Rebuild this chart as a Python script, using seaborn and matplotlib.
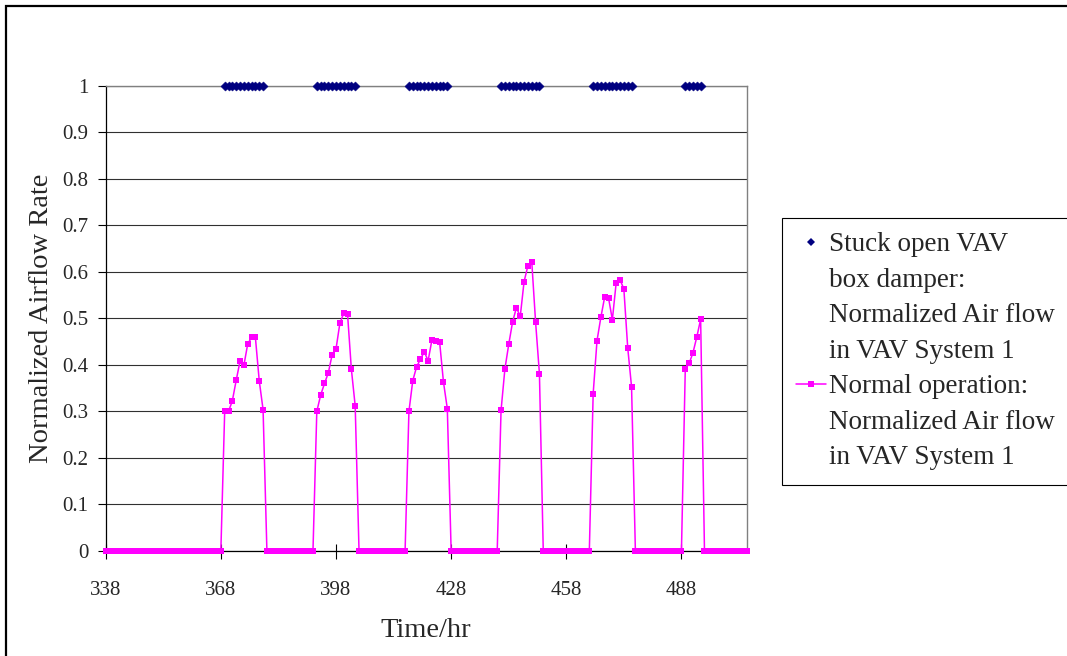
import numpy as np
import pandas as pd
import matplotlib
matplotlib.use("Agg")
import matplotlib.pyplot as plt
from matplotlib.lines import Line2D
from matplotlib.patches import Rectangle
import seaborn as sns

# ---- data -------------------------------------------------------------
first_hour = 338
last_hour = 505
tick_hours = [338, 368, 398, 428, 458, 488]
y_ticks = [0, 0.1, 0.2, 0.3, 0.4, 0.5, 0.6, 0.7, 0.8, 0.9, 1]
y_tick_labels = ["0", "0.1", "0.2", "0.3", "0.4", "0.5", "0.6", "0.7", "0.8", "0.9", "1"]

# hour at which each occupied period begins
day_start_hours = [369, 393, 417, 441, 465, 489]

# normalized airflow during each occupied period (normal operation)
day1_flow = [0.30, 0.30, 0.323, 0.367, 0.408, 0.399, 0.445, 0.459, 0.459, 0.366, 0.304]
day2_flow = [0.30, 0.335, 0.36, 0.383, 0.422, 0.434, 0.489, 0.511, 0.51, 0.391, 0.312]
day3_flow = [0.30, 0.366, 0.396, 0.412, 0.428, 0.409, 0.454, 0.452, 0.449, 0.363, 0.306]
day4_flow = [0.302, 0.391, 0.444, 0.492, 0.523, 0.504, 0.579, 0.613, 0.622, 0.492, 0.381]
day5_flow = [0.338, 0.452, 0.502, 0.546, 0.544, 0.497, 0.577, 0.583, 0.563, 0.437, 0.353]
day6_flow = [0.392, 0.403, 0.426, 0.46, 0.498]

# with the damper stuck open the box delivers full flow whenever the system runs
stuck_open_flow = 1.0
unoccupied_flow = 0.0

# ---- tables -------------------------------------------------------------
hours = np.arange(first_hour, last_hour + 1)
normal = pd.Series(unoccupied_flow, index=hours, dtype=float)
stuck_hours = []
for start, vals in zip(day_start_hours,
                       [day1_flow, day2_flow, day3_flow, day4_flow, day5_flow, day6_flow]):
    idx = np.arange(start, start + len(vals))
    normal.loc[idx] = vals
    stuck_hours.extend(idx.tolist())

normal_df = pd.DataFrame({"hour": hours, "flow": normal.values})
stuck_df = pd.DataFrame({"hour": stuck_hours, "flow": stuck_open_flow})

# ---- style --------------------------------------------------------------
sns.set_theme(style="white")
plt.rcParams["font.family"] = ["Liberation Serif", "DejaVu Serif"]

W, H = 1067, 656
fig = plt.figure(figsize=(W / 100, H / 100), dpi=100)
ax = fig.add_axes([105.7 / W, 1 - 551 / H, (746.7 - 105.7) / W, (551 - 85.7) / H])

navy = "#000080"
magenta = "#FF00FF"

sns.scatterplot(data=stuck_df, x="hour", y="flow", marker="D", s=22,
                color=navy, edgecolor=navy, linewidth=0.3, ax=ax,
                zorder=4, clip_on=False, legend=False)
sns.lineplot(data=normal_df, x="hour", y="flow", marker="s", markersize=5.0,
             markeredgewidth=0, color=magenta, linewidth=1.1, errorbar=None,
             ax=ax, zorder=3, clip_on=False, legend=False)

ax.set_xlim(first_hour, last_hour)
ax.set_ylim(0, 1)
ax.set_xticks(tick_hours)
ax.set_xticklabels([str(t) for t in tick_hours], fontsize=15)
ax.set_yticks(y_ticks)
ax.set_yticklabels(y_tick_labels, fontsize=15)

ax.yaxis.grid(True, color="#303030", linewidth=0.8)
ax.xaxis.grid(False)
ax.set_axisbelow(True)

for side in ("top", "right"):
    ax.spines[side].set_color("#808080")
    ax.spines[side].set_linewidth(1.0)
for side in ("left", "bottom"):
    ax.spines[side].set_color("#000000")
    ax.spines[side].set_linewidth(0.9)
    ax.spines[side].set_zorder(2.5)

ax.tick_params(axis="x", direction="inout", length=10.8, width=0.8,
               color="black", pad=16, bottom=True)
ax.tick_params(axis="y", direction="out", length=5.5, width=0.8,
               color="black", pad=7, left=True)

ax.set_xlabel("Time/hr", fontsize=20.5, labelpad=13)
ax.set_ylabel("Normalized Airflow Rate", fontsize=20.5, labelpad=6)

# ---- legend: one row per text line, markers on the first line of each entry
blank = Line2D([], [], linestyle="None", marker=None)
h_stuck = Line2D([], [], linestyle="None", marker="D", markersize=3.8,
                 color=navy, markeredgewidth=0)
h_normal = Line2D([], [], linestyle="-", linewidth=1.1, marker="s",
                  markersize=5.0, color=magenta, markeredgewidth=0)
handles = [h_stuck, blank, blank, blank, h_normal, blank, blank]
labels = ["Stuck open VAV", "box damper:", "Normalized Air flow", "in VAV System 1",
          "Normal operation:", "Normalized Air flow", "in VAV System 1"]
leg = ax.legend(handles, labels, loc="upper left",
                bbox_to_anchor=(782 / W, 1 - 218 / H), bbox_transform=fig.transFigure,
                borderaxespad=0, frameon=True, fancybox=False, shadow=False,
                framealpha=1, edgecolor="black", fontsize=19.5,
                labelspacing=0.39, handlelength=1.1, handletextpad=0.1,
                borderpad=0.52)
leg.get_frame().set_linewidth(0.8)

# chart-area border
fig.patches.append(Rectangle((6 / W, -0.2), 1.2, 1.2 - 6 / H,
                             transform=fig.transFigure, fill=False,
                             edgecolor="black", linewidth=1.6))

fig.savefig("out.png", dpi=100)
